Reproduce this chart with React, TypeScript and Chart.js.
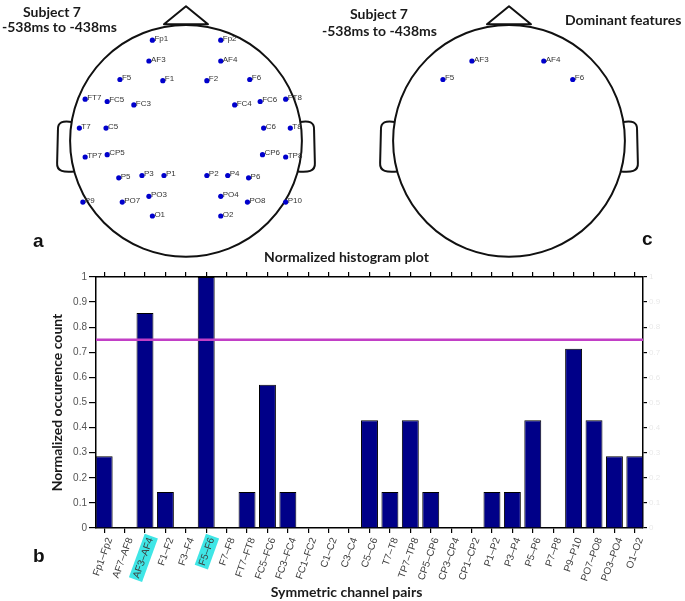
import React, { useEffect, useRef } from 'react';
import { Chart, registerables } from 'chart.js';

Chart.register(...registerables);

// ---------- Data ----------
const PAIR_LABELS = [
  'Fp1–Fp2', 'AF7–AF8', 'AF3–AF4', 'F1–F2', 'F3–F4', 'F5–F6', 'F7–F8', 'FT7–FT8',
  'FC5–FC6', 'FC3–FC4', 'FC1–FC2', 'C1–C2', 'C3–C4', 'C5–C6', 'T7–T8', 'TP7–TP8',
  'CP5–CP6', 'CP3–CP4', 'CP1–CP2', 'P1–P2', 'P3–P4', 'P5–P6', 'P7–P8', 'P9–P10',
  'PO7–PO8', 'PO3–PO4', 'O1–O2',
];
const PAIR_VALUES = [
  0.286, 0, 0.857, 0.143, 0, 1, 0, 0.143,
  0.571, 0.143, 0, 0, 0, 0.429, 0.143, 0.429,
  0.143, 0, 0, 0.143, 0.143, 0.429, 0, 0.714,
  0.429, 0.286, 0.286,
];
const THRESHOLD = 0.75;
const Y_MIN = 0;
const Y_MAX = 1;
const Y_STEP = 0.1;

const ELECTRODE_NAMES = [
  'Fp1', 'Fp2', 'AF3', 'AF4', 'F5', 'F1', 'F2', 'F6',
  'FT7', 'FC5', 'FC3', 'FC4', 'FC6', 'FT8',
  'T7', 'C5', 'C6', 'T8',
  'TP7', 'CP5', 'CP6', 'TP8',
  'P5', 'P3', 'P1', 'P2', 'P4', 'P6',
  'P9', 'PO7', 'PO3', 'PO4', 'PO8', 'P10',
  'O1', 'O2',
];
const ELECTRODE_X = [
  -0.29, 0.30, -0.32, 0.30, -0.57, -0.20, 0.18, 0.55,
  -0.87, -0.68, -0.45, 0.42, 0.64, 0.86,
  -0.92, -0.69, 0.67, 0.90,
  -0.87, -0.68, 0.66, 0.86,
  -0.58, -0.38, -0.19, 0.18, 0.36, 0.54,
  -0.89, -0.55, -0.32, 0.30, 0.53, 0.86,
  -0.29, 0.30,
];
const ELECTRODE_Y = [
  0.87, 0.87, 0.69, 0.69, 0.53, 0.52, 0.52, 0.53,
  0.36, 0.34, 0.31, 0.31, 0.34, 0.36,
  0.11, 0.11, 0.11, 0.11,
  -0.14, -0.12, -0.12, -0.14,
  -0.32, -0.30, -0.30, -0.30, -0.30, -0.32,
  -0.53, -0.53, -0.48, -0.48, -0.53, -0.53,
  -0.65, -0.65,
];

const DOMINANT_INDICES = PAIR_VALUES.map((v, i) => (v > THRESHOLD ? i : -1)).filter((i) => i >= 0);
const DOMINANT_ELECTRODES = DOMINANT_INDICES.flatMap((i) => PAIR_LABELS[i].split('–'));

// ---------- Layout / style constants ----------
const HEAD_X_RANGE = [-1.2373, 1.2373];
const HEAD_Y_RANGE = [-1.0254, 1.1949];
const HEAD_W = 292;
const HEAD_H = 262;
const TITLE_FONT = { family: 'Lato', size: 14, weight: 'bold' as const };
const TEXT_COLOR = '#1a1a1a';

const headOutlinePlugin = {
  id: 'headOutline',
  beforeDatasetsDraw(chart: any) {
    const { ctx, scales } = chart;
    const px = (v: number) => scales.x.getPixelForValue(v);
    const py = (v: number) => scales.y.getPixelForValue(v);
    const r = px(1) - px(0);
    ctx.save();
    ctx.strokeStyle = '#111';
    ctx.lineWidth = 2;
    ctx.lineJoin = 'round';
    ctx.beginPath();
    ctx.arc(px(0), py(0), r, 0, Math.PI * 2);
    ctx.stroke();
    // nose
    ctx.beginPath();
    ctx.moveTo(px(-0.19), py(1.008));
    ctx.lineTo(px(0), py(1.163));
    ctx.lineTo(px(0.19), py(1.008));
    ctx.closePath();
    ctx.stroke();
    // ears
    for (const s of [-1, 1]) {
      ctx.beginPath();
      ctx.moveTo(px(s * 0.985), py(0.163));
      ctx.bezierCurveTo(px(s * 1.06), py(0.175), px(s * 1.11), py(0.165), px(s * 1.105), py(0.09));
      ctx.lineTo(px(s * 1.112), py(-0.19));
      ctx.bezierCurveTo(px(s * 1.118), py(-0.27), px(s * 1.05), py(-0.272), px(s * 0.963), py(-0.265));
      ctx.stroke();
    }
    ctx.restore();
  },
};

const electrodeLabelPlugin = {
  id: 'electrodeLabels',
  afterDatasetsDraw(chart: any) {
    const { ctx } = chart;
    const meta = chart.getDatasetMeta(0);
    const data = chart.data.datasets[0].data;
    ctx.save();
    ctx.font = '8px "Liberation Sans", Arial, sans-serif';
    ctx.fillStyle = '#333';
    ctx.textBaseline = 'middle';
    ctx.textAlign = 'left';
    meta.data.forEach((el: any, i: number) => {
      ctx.fillText(data[i].name, el.x + 2, el.y - 1.5);
    });
    ctx.restore();
  },
};

const thresholdPlugin = {
  id: 'thresholdLine',
  afterDatasetsDraw(chart: any, _args: any, opts: any) {
    const { ctx, chartArea, scales } = chart;
    const y = scales.y.getPixelForValue(opts.value);
    ctx.save();
    ctx.strokeStyle = opts.color;
    ctx.lineWidth = opts.width;
    ctx.beginPath();
    ctx.moveTo(chartArea.left, y);
    ctx.lineTo(chartArea.right, y);
    ctx.stroke();
    ctx.restore();
  },
};

function headConfig(names: string[]): any {
  const points = names.map((n) => {
    const i = ELECTRODE_NAMES.indexOf(n);
    return { x: ELECTRODE_X[i], y: ELECTRODE_Y[i], name: n };
  });
  return {
    type: 'scatter',
    data: {
      datasets: [{
        data: points,
        pointRadius: 2.6,
        pointHoverRadius: 2.6,
        pointBackgroundColor: '#0000cc',
        pointBorderWidth: 0,
      }],
    },
    options: {
      responsive: false,
      animation: false,
      events: [],
      layout: { padding: 0 },
      plugins: { legend: { display: false }, tooltip: { enabled: false } },
      scales: {
        x: { type: 'linear', display: false, min: HEAD_X_RANGE[0], max: HEAD_X_RANGE[1] },
        y: { type: 'linear', display: false, min: HEAD_Y_RANGE[0], max: HEAD_Y_RANGE[1] },
      },
    },
    plugins: [headOutlinePlugin, electrodeLabelPlugin],
  };
}

const fmtTick = (v: number) => String(Math.round(v * 10) / 10);
const xMin = -0.4;
const xMax = PAIR_LABELS.length - 1 + 0.4;
const categoryTicks = (scale: any) => {
  scale.ticks = PAIR_LABELS.map((_, i) => ({ value: i }));
};

function barConfig(): any {
  return {
    type: 'bar',
    data: {
      datasets: [{
        data: PAIR_VALUES.map((v, i) => ({ x: i, y: v })),
        backgroundColor: '#000088',
        borderColor: '#000000',
        borderWidth: 1,
        categoryPercentage: 1,
        barPercentage: 0.83,
      }],
    },
    options: {
      responsive: false,
      animation: false,
      events: [],
      layout: { padding: 0 },
      plugins: {
        legend: { display: false },
        tooltip: { enabled: false },
        title: {
          display: true,
          text: 'Normalized histogram plot',
          font: TITLE_FONT,
          color: TEXT_COLOR,
          padding: { top: 3.6, bottom: 0 },
        },
        subtitle: {
          display: true,
          position: 'bottom',
          text: 'Symmetric channel pairs',
          font: TITLE_FONT,
          color: TEXT_COLOR,
          padding: { top: 0, bottom: 0 },
        },
        thresholdLine: { value: THRESHOLD, color: '#c23fc6', width: 2.5 },
      },
      scales: {
        x: {
          type: 'linear',
          position: 'bottom',
          offset: false,
          min: xMin,
          max: xMax,
          afterBuildTicks: categoryTicks,
          afterFit: (s: any) => { s.height = 56.2; },
          grid: { offset: false, drawOnChartArea: false, drawTicks: true, tickLength: 5, color: '#000', lineWidth: 1.2 },
          border: { display: true, color: '#000', width: 1.5 },
          ticks: {
            autoSkip: false,
            minRotation: 70,
            maxRotation: 70,
            padding: 3,
            font: { family: 'Liberation Sans', size: 10 },
            color: '#3c3c3c',
            callback: (v: number) => PAIR_LABELS[v] ?? '',
            showLabelBackdrop: true,
            backdropColor: (c: any) => (DOMINANT_INDICES.includes(c.index) ? '#3fe6e6' : 'rgba(0,0,0,0)'),
            backdropPadding: { top: 1, bottom: 1, left: 2, right: 2 },
          },
        },
        x2: {
          type: 'linear',
          position: 'top',
          offset: false,
          min: xMin,
          max: xMax,
          afterBuildTicks: categoryTicks,
          afterFit: (s: any) => { s.height = 11.6; },
          grid: { offset: false, drawOnChartArea: false, drawTicks: true, tickLength: 5, color: '#000', lineWidth: 1.2 },
          border: { display: true, color: '#000', width: 1.5 },
          ticks: { display: false },
        },
        y: {
          type: 'linear',
          position: 'left',
          min: Y_MIN,
          max: Y_MAX,
          afterFit: (s: any) => { s.width = 88; },
          grid: { drawOnChartArea: false, drawTicks: true, tickLength: 7, color: '#000', lineWidth: 1.2 },
          border: { display: true, color: '#000', width: 1.5 },
          ticks: {
            stepSize: Y_STEP,
            padding: 2,
            font: { family: 'Liberation Sans', size: 10 },
            color: '#555',
            callback: fmtTick,
          },
          title: {
            display: true,
            text: 'Normalized occurence count',
            font: TITLE_FONT,
            color: TEXT_COLOR,
            padding: { top: 40.6, bottom: 0 },
          },
        },
        y2: {
          type: 'linear',
          position: 'right',
          min: Y_MIN,
          max: Y_MAX,
          afterFit: (s: any) => { s.width = 42; },
          grid: { drawOnChartArea: false, drawTicks: true, tickLength: 4, color: '#000', lineWidth: 1.2 },
          border: { display: true, color: '#000', width: 1.5 },
          ticks: {
            stepSize: Y_STEP,
            padding: 2,
            font: { family: 'Liberation Sans', size: 8 },
            color: 'rgba(0,0,0,0.1)',
            callback: fmtTick,
          },
        },
      },
    },
    plugins: [thresholdPlugin],
  };
}

const textStyle = (left: number, top: number, extra: any = {}): React.CSSProperties => ({
  position: 'absolute',
  left,
  top,
  fontFamily: 'Lato, sans-serif',
  fontWeight: 700,
  fontSize: 14,
  lineHeight: '14px',
  color: TEXT_COLOR,
  whiteSpace: 'nowrap',
  ...extra,
});

const letterStyle = (left: number, top: number): React.CSSProperties => ({
  position: 'absolute',
  left,
  top,
  fontFamily: '"Liberation Sans", Arial, sans-serif',
  fontWeight: 700,
  fontSize: 19,
  lineHeight: '19px',
  color: '#111',
});

export default function App() {
  const headARef = useRef<HTMLCanvasElement>(null);
  const headCRef = useRef<HTMLCanvasElement>(null);
  const barRef = useRef<HTMLCanvasElement>(null);

  useEffect(() => {
    const charts: Chart[] = [];
    if (headARef.current) charts.push(new Chart(headARef.current, headConfig(ELECTRODE_NAMES)));
    if (headCRef.current) charts.push(new Chart(headCRef.current, headConfig(DOMINANT_ELECTRODES)));
    if (barRef.current) charts.push(new Chart(barRef.current, barConfig()));
    return () => charts.forEach((c) => c.destroy());
  }, []);

  return (
    <div style={{ position: 'absolute', left: 0, top: 0, width: 685, height: 601, background: '#fff', overflow: 'hidden' }}>
      <canvas ref={headARef} width={HEAD_W} height={HEAD_H}
        style={{ position: 'absolute', left: 40, top: 0, width: HEAD_W, height: HEAD_H }} />
      <canvas ref={headCRef} width={HEAD_W} height={HEAD_H}
        style={{ position: 'absolute', left: 363, top: 0, width: HEAD_W, height: HEAD_H }} />
      <canvas ref={barRef} width={677} height={356}
        style={{ position: 'absolute', left: 8, top: 245, width: 677, height: 356 }} />

      <div style={textStyle(23, 5)}>Subject 7</div>
      <div style={textStyle(2, 19.5)}>-538ms to -438ms</div>
      <div style={textStyle(350, 7)}>Subject 7</div>
      <div style={textStyle(322, 23.5)}>-538ms to -438ms</div>
      <div style={textStyle(565, 12.6)}>Dominant features</div>
      <div style={letterStyle(33, 231)}>a</div>
      <div style={letterStyle(642, 229)}>c</div>
      <div style={letterStyle(33, 546)}>b</div>
    </div>
  );
}
